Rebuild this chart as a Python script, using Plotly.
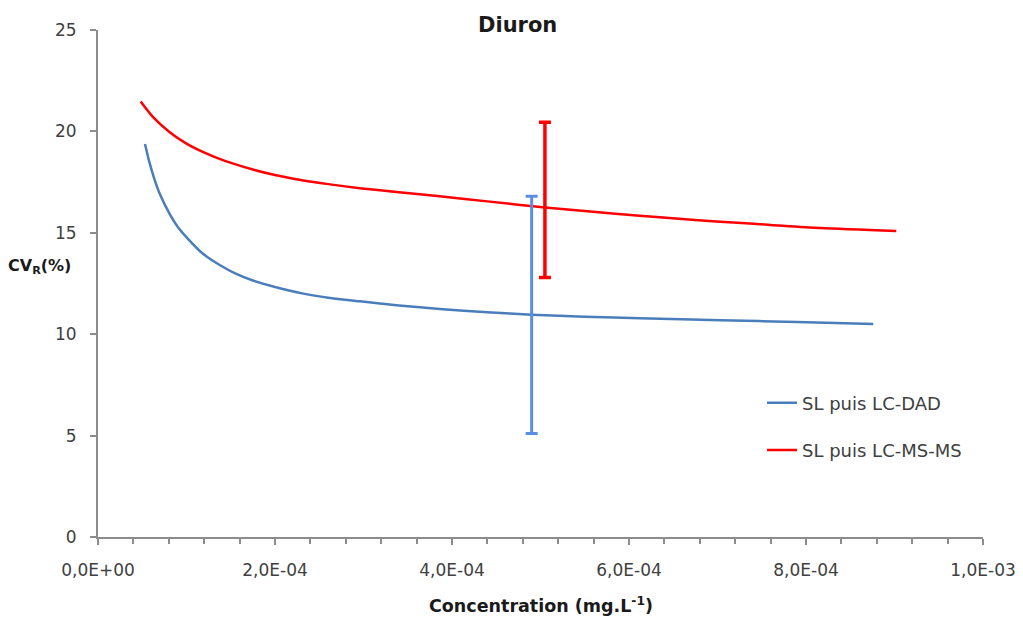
import plotly.graph_objects as go

# Data
dad_x = [5.31e-5, 5.8e-5, 6.3e-5, 7.0e-5, 8.14e-5, 9.0e-5, 1.006e-4, 1.19e-4,
         1.38e-4, 1.55e-4, 1.75e-4, 2.0e-4, 2.32e-4, 2.6e-4, 2.96e-4, 3.4e-4,
         3.86e-4, 4.4e-4, 4.9e-4, 5.5e-4, 6.12e-4, 7.03e-4, 7.9e-4, 8.76e-4]
dad_y = [19.38, 18.5, 17.75, 16.9, 15.9, 15.3, 14.75, 13.95,
         13.4, 13.0, 12.65, 12.33, 12.0, 11.8, 11.62, 11.42,
         11.24, 11.08, 10.96, 10.86, 10.79, 10.69, 10.6, 10.50]

msms_x = [4.82e-5, 6.25e-5, 8.14e-5, 1.0e-4, 1.19e-4, 1.45e-4, 1.75e-4, 2.0e-4,
          2.32e-4, 2.6e-4, 2.96e-4, 3.4e-4, 3.86e-4, 4.4e-4, 5.05e-4, 5.5e-4,
          6.12e-4, 6.6e-4, 7.03e-4, 7.6e-4, 8.16e-4, 9.02e-4]
msms_y = [21.47, 20.69, 19.95, 19.4, 18.98, 18.52, 18.12, 17.85,
          17.58, 17.4, 17.2, 17.0, 16.8, 16.55, 16.25, 16.07,
          15.84, 15.68, 15.55, 15.39, 15.24, 15.09]

# error bars (x, centre, half-range)
dad_err_x = [4.90e-4]
dad_err_y = [10.95]
dad_err = [5.85]
msms_err_x = [5.05e-4]
msms_err_y = [16.62]
msms_err = [3.83]

x_tickvals = [0, 2e-4, 4e-4, 6e-4, 8e-4, 1e-3]
x_ticktext = ["0,0E+00", "2,0E-04", "4,0E-04", "6,0E-04", "8,0E-04", "1,0E-03"]
y_tickvals = [0, 5, 10, 15, 20, 25]

blue = "#4a7ebb"
blue_err = "#5b8ee0"
red = "#ff0000"
font = "DejaVu Sans"
tick_color = "#404040"
title_color = "#1a1a1a"
axis_color = "#8c8c8c"

# plot area in page pixels (reference): x 98..983, y 25..537
def px(x_page):
    return (x_page - 98) / 885

def py(y_page):
    return (537 - y_page) / 512

fig = go.Figure()
fig.add_trace(go.Scatter(x=dad_x, y=dad_y, mode="lines", name="SL puis LC-DAD",
                         line=dict(color=blue, width=2.5, shape="spline", smoothing=0.8),
                         legendgroup="a"))
fig.add_trace(go.Scatter(x=msms_x, y=msms_y, mode="lines", name="SL puis LC-MS-MS",
                         line=dict(color=red, width=2.5, shape="spline", smoothing=0.8),
                         legendgroup="b"))
fig.add_trace(go.Scatter(x=dad_err_x, y=dad_err_y, mode="markers", showlegend=False,
                         marker=dict(size=1, color="rgba(0,0,0,0)"),
                         error_y=dict(type="data", array=dad_err, color=blue_err,
                                      thickness=3, width=6)))
fig.add_trace(go.Scatter(x=msms_err_x, y=msms_err_y, mode="markers", showlegend=False,
                         marker=dict(size=1, color="rgba(0,0,0,0)"),
                         error_y=dict(type="data", array=msms_err, color=red,
                                      thickness=3.5, width=6)))

fig.update_layout(
    width=1023, height=623,
    margin=dict(l=90, r=48, t=17, b=94),
    paper_bgcolor="white", plot_bgcolor="white",
    font=dict(family=font, size=17, color=tick_color),
    showlegend=True,
    legend=dict(x=px(762), y=py(383), xanchor="left", yanchor="top",
                bgcolor="rgba(0,0,0,0)", traceorder="grouped", tracegroupgap=21,
                font=dict(family=font, size=18, color=tick_color)),
    xaxis=dict(range=[0, 1e-3], tickvals=x_tickvals, ticktext=x_ticktext,
               showgrid=False, zeroline=False, showline=True,
               linecolor=axis_color, linewidth=2,
               ticks="outside", ticklen=6, tickcolor=axis_color, tickwidth=1.5,
               ticklabelstandoff=11,
               minor=dict(dtick=4e-5, ticks="outside", ticklen=5,
                          tickcolor=axis_color, tickwidth=1.5, showgrid=False),
               tickfont=dict(family=font, size=17, color=tick_color)),
    yaxis=dict(range=[0, 25], tickvals=y_tickvals,
               showgrid=False, zeroline=False, showline=True,
               linecolor=axis_color, linewidth=2,
               ticks="outside", ticklen=6, tickcolor=axis_color, tickwidth=1.5,
               ticklabelstandoff=10,
               tickfont=dict(family=font, size=17, color=tick_color)),
    annotations=[
        dict(text="<b>Diuron</b>", x=px(517), y=py(20), xref="paper", yref="paper",
             xanchor="center", yanchor="middle", showarrow=False,
             font=dict(family=font, size=21, color=title_color)),
        dict(text="<b>CV<sub>R</sub>(%)</b>", x=px(39), y=py(264),
             xref="paper", yref="paper", xanchor="center", yanchor="middle",
             showarrow=False, font=dict(family=font, size=16, color=title_color)),
        dict(text="<b>Concentration (mg.L<sup>-1</sup>)</b>", x=px(541), y=py(606),
             xref="paper", yref="paper", xanchor="center", yanchor="middle",
             showarrow=False, font=dict(family=font, size=17.5, color=title_color)),
    ],
)

fig.write_html("out.html")
